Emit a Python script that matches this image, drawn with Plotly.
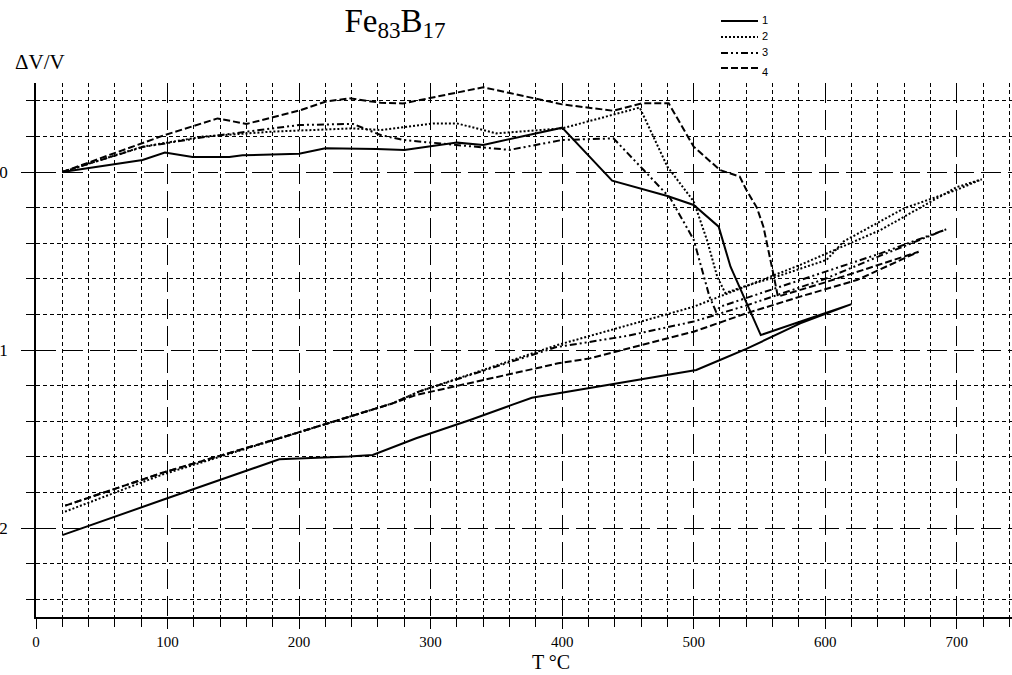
import plotly.graph_objects as go

# Series 1 (solid): heating, crystallisation drop, heating to max T, cooling back
T1 = [20, 81, 98, 119, 147, 157, 200, 220, 259, 280, 320, 340, 400, 438, 480, 500, 519, 528, 551, 620,
      581, 540, 520, 502, 377, 330, 289, 256, 238, 185, 96, 20]
V1 = [0, 0.067, 0.109, 0.084, 0.084, 0.094, 0.103, 0.133, 0.129, 0.124, 0.165, 0.152, 0.249, -0.049, -0.135,
      -0.185, -0.307, -0.532, -0.916, -0.742,
      -0.85, -0.994, -1.056, -1.112, -1.268, -1.393, -1.496, -1.59, -1.599, -1.614, -1.843, -2.04]

# Series 2 (dotted)
T2 = [20, 81, 127, 180, 241, 262, 302, 320, 350, 400, 459, 480, 500, 510, 518, 524, 538, 563, 601, 614, 660,
      700, 719, 700, 642, 581, 500, 395, 291, 271, 193, 96, 20]
V2 = [0, 0.142, 0.199, 0.227, 0.245, 0.236, 0.273, 0.273, 0.217, 0.245, 0.362, 0.03, -0.165, -0.38, -0.59,
      -0.68, -0.644, -0.588, -0.494, -0.39, -0.204, -0.10, -0.041, -0.085, -0.326, -0.522, -0.757, -0.975,
      -1.234, -1.30, -1.478, -1.70, -1.914]

# Series 3 (dash-dot-dot)
T3 = [20, 81, 127, 200, 241, 262, 279, 360, 400, 439, 462, 482, 500, 512, 517, 520, 581, 642, 692,
      642, 600, 540, 500, 450, 395, 291, 271, 193, 96, 20]
V3 = [0, 0.14, 0.195, 0.264, 0.27, 0.208, 0.18, 0.124, 0.18, 0.189, 0.011, -0.145, -0.38, -0.70, -0.785,
      -0.757, -0.607, -0.457, -0.322,
      -0.47, -0.60, -0.75, -0.84, -0.92, -0.985, -1.234, -1.30, -1.478, -1.69, -1.88]

# Series 4 (dashed)
T4 = [20, 81, 98, 138, 160, 200, 220, 238, 262, 279, 340, 400, 439, 461, 481, 500, 520, 535, 540, 548, 553,
      561, 564, 600, 671, 624, 581, 540, 500, 421, 397, 289, 271, 193, 96, 20]
V4 = [0, 0.16, 0.208, 0.301, 0.27, 0.345, 0.395, 0.414, 0.389, 0.385, 0.476, 0.38, 0.344, 0.386, 0.386,
      0.142, 0.011, -0.026, -0.10, -0.2, -0.307, -0.588, -0.70, -0.62, -0.448, -0.607, -0.70, -0.794, -0.897,
      -1.047, -1.075, -1.253, -1.30, -1.478, -1.69, -1.88]

series_names = ["1", "2", "3", "4"]
series_T = [T1, T2, T3, T4]
series_V = [V1, V2, V3, V4]
dashes = ["solid", "2px,2px", "7px,3px,2px,3px,2px,3px", "7px,3px"]

SERIF = "Liberation Serif, Times New Roman, serif"
SANS = "Liberation Sans, Arial, sans-serif"

# plot area in pixels
L, R, TOP, BOT = 36, 1012, 83, 617


def px2paper_x(px):
    return (px - L) / (R - L)


def px2paper_y(py):
    return (BOT - py) / (BOT - TOP)


fig = go.Figure()
for name, t, v, d in zip(series_names, series_T, series_V, dashes):
    fig.add_trace(go.Scatter(x=t, y=v, mode="lines", name=name, showlegend=False,
                             line=dict(color="black", width=2, dash=d)))

# hand-drawn legend (compact, like the reference)
legend_rows = [21, 37, 53, 68]
label_rows = [20, 36, 52, 72]
shapes = []
annotations = []
for name, d, ly, ty in zip(series_names, dashes, legend_rows, label_rows):
    shapes.append(dict(type="line", xref="paper", yref="paper",
                       x0=px2paper_x(721), x1=px2paper_x(758), y0=px2paper_y(ly), y1=px2paper_y(ly),
                       line=dict(color="black", width=2, dash=d)))
    annotations.append(dict(text=name, xref="paper", yref="paper", x=px2paper_x(760), y=px2paper_y(ty),
                            xanchor="left", yanchor="middle", showarrow=False,
                            font=dict(family=SANS, size=11, color="black")))

annotations += [
    dict(text="ΔV/V", xref="paper", yref="paper", x=px2paper_x(40), y=px2paper_y(62),
         xanchor="center", yanchor="middle", showarrow=False,
         font=dict(family=SERIF, size=21, color="black")),
    dict(text="T °C", xref="paper", yref="paper", x=px2paper_x(551), y=px2paper_y(662),
         xanchor="center", yanchor="middle", showarrow=False,
         font=dict(family=SERIF, size=20, color="black")),
]

fig.update_layout(
    width=1012, height=675,
    paper_bgcolor="white", plot_bgcolor="white",
    margin=dict(l=L, r=1012 - R, t=TOP, b=675 - BOT, autoexpand=False),
    title=dict(text="Fe<sub>83</sub>B<sub>17</sub>", x=395 / 1012, xref="container", xanchor="center",
               y=1 - 20 / 675, yref="container", yanchor="middle",
               font=dict(family=SERIF, size=33, color="black")),
    showlegend=False,
    shapes=shapes,
    annotations=annotations,
)

fig.update_xaxes(
    range=[0, 742], dtick=100, tick0=0, automargin=False,
    showline=True, linecolor="black", linewidth=1.5,
    ticks="outside", ticklen=10, tickcolor="black", tickwidth=1,
    tickfont=dict(family=SERIF, size=15, color="black"),
    showgrid=True, gridcolor="black", gridwidth=1, griddash="20px,7px", zeroline=False,
    minor=dict(dtick=20, tick0=0, showgrid=True, gridcolor="black", gridwidth=1, griddash="4px,3px",
               ticks="outside", ticklen=8, tickcolor="black"),
)
fig.update_yaxes(
    range=[-2.5, 0.5], dtick=1, tick0=0, automargin=False,
    showline=True, linecolor="black", linewidth=1.5,
    ticks="outside", ticklen=13, tickcolor="black", tickwidth=1,
    tickfont=dict(family=SERIF, size=17, color="black"), ticklabelstandoff=10,
    showgrid=True, gridcolor="black", gridwidth=1, griddash="20px,7px", zeroline=False,
    minor=dict(dtick=0.2, tick0=0, showgrid=True, gridcolor="black", gridwidth=1, griddash="4px,3px",
               ticks="outside", ticklen=8, tickcolor="black"),
)

fig.write_html("out.html", config={"displayModeBar": False},
               post_script="document.body.style.margin='0';")
